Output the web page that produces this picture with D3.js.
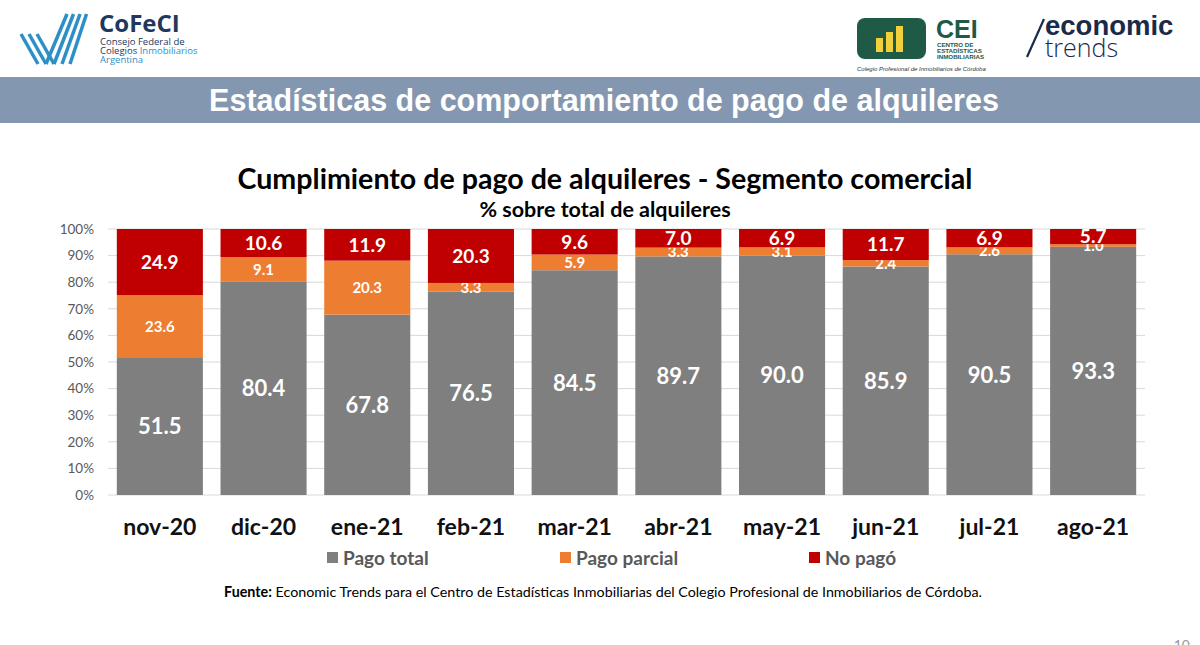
<!DOCTYPE html>
<html lang="es">
<head>
    <meta charset="UTF-8">
    <script src="https://d3js.org/d3.v7.min.js"></script>
    <style>
        body { margin: 0; background: #fff; }
        svg { display: block; }
    </style>
</head>
<body>
    <svg id="chart" width="1200" height="645"></svg>
    <script>
        // datos
        const months = ["nov-20", "dic-20", "ene-21", "feb-21", "mar-21", "abr-21", "may-21", "jun-21", "jul-21", "ago-21"];
        const pagoTotal = [51.5, 80.4, 67.8, 76.5, 84.5, 89.7, 90.0, 85.9, 90.5, 93.3];
        const pagoParcial = [23.6, 9.1, 20.3, 3.3, 5.9, 3.3, 3.1, 2.4, 2.6, 1.0];
        const noPago = [24.9, 10.6, 11.9, 20.3, 9.6, 7.0, 6.9, 11.7, 6.9, 5.7];
        const seriesNames = ["Pago total", "Pago parcial", "No pagó"];
        const yTicks = [0, 0.1, 0.2, 0.3, 0.4, 0.5, 0.6, 0.7, 0.8, 0.9, 1];

        const colors = ["#7F7F7F", "#ED7D31", "#C00000"];
        const labelSize = [22, 15, 19];
        const chartFont = "Lato, 'Open Sans', sans-serif";

        let table = months.map((m, i) => ({
            month: m,
            "Pago total": pagoTotal[i],
            "Pago parcial": pagoParcial[i],
            "No pagó": noPago[i]
        }));

        let stacked = d3.stack()
            .keys(seriesNames)
            .offset(d3.stackOffsetExpand)(table);

        let svg = d3.select("#chart");

        // ---- cabecera: logos ----
        let logo = svg.append("g");
        let blue = "#2C8FC8";
        // tilde de CoFeCI
        [0, 1, 2].forEach(k => {
            logo.append("line")
                .attr("x1", 21 + k * 8).attr("y1", 34)
                .attr("x2", 38 + k * 8).attr("y2", 64)
                .attr("stroke", blue).attr("stroke-width", 3.5);
        });
        [0, 1, 2, 3].forEach(k => {
            logo.append("line")
                .attr("x1", 46 + k * 8).attr("y1", 64)
                .attr("x2", 67 + k * 6.5).attr("y2", 14)
                .attr("stroke", blue).attr("stroke-width", 3.5);
        });
        logo.append("text").attr("x", 99).attr("y", 32)
            .attr("font-family", "'Open Sans', sans-serif").attr("font-weight", "bold")
            .attr("font-size", 24).attr("fill", "#21385C").text("CoFeCI");
        logo.append("text").attr("x", 100).attr("y", 45)
            .attr("font-family", "'Open Sans', sans-serif").attr("font-size", 9.5)
            .attr("fill", "#21385C").text("Consejo Federal de");
        let l2 = logo.append("text").attr("x", 100).attr("y", 54)
            .attr("font-family", "'Open Sans', sans-serif").attr("font-size", 9.5)
            .attr("fill", "#21385C");
        l2.append("tspan").text("Colegios ");
        l2.append("tspan").attr("fill", blue).text("Inmobiliarios");
        logo.append("text").attr("x", 100).attr("y", 63)
            .attr("font-family", "'Open Sans', sans-serif").attr("font-size", 9.5)
            .attr("fill", blue).text("Argentina");

        // CEI
        let green = "#1F5A47";
        logo.append("rect").attr("x", 857).attr("y", 18).attr("width", 69).attr("height", 41)
            .attr("rx", 8).attr("fill", green);
        [[876, 38, 7], [886, 32, 7], [896, 26, 7]].forEach(b => {
            logo.append("rect").attr("x", b[0]).attr("y", b[1]).attr("width", b[2])
                .attr("height", 52 - b[1]).attr("fill", "#F2D03B");
        });
        logo.append("text").attr("x", 936).attr("y", 38)
            .attr("font-family", "'Liberation Sans', Arial, sans-serif").attr("font-weight", "bold")
            .attr("font-size", 25).attr("fill", green).text("CEI");
        ["CENTRO DE", "ESTADÍSTICAS", "INMOBILIARIAS"].forEach((t, i) => {
            logo.append("text").attr("x", 937).attr("y", 47 + i * 6)
                .attr("font-family", "'Liberation Sans', Arial, sans-serif").attr("font-weight", "bold")
                .attr("font-size", 6.2).attr("fill", green).text(t);
        });
        logo.append("text").attr("x", 857).attr("y", 71)
            .attr("font-family", "'Liberation Sans', Arial, sans-serif").attr("font-style", "italic")
            .attr("font-size", 6).attr("fill", "#333").text("Colegio Profesional de Inmobiliarios de Córdoba");

        // economic trends
        let navy = "#1A2B49";
        logo.append("line").attr("x1", 1027).attr("y1", 57).attr("x2", 1044).attr("y2", 19)
            .attr("stroke", navy).attr("stroke-width", 2.2);
        logo.append("text").attr("x", 1045).attr("y", 35)
            .attr("font-family", "'Liberation Sans', Arial, sans-serif").attr("font-weight", "bold")
            .attr("font-size", 27.5).attr("fill", navy).text("economic");
        logo.append("text").attr("x", 1045).attr("y", 57)
            .attr("font-family", "'Open Sans', sans-serif").attr("font-weight", 300)
            .attr("font-size", 25).attr("fill", navy).text("trends");

        // banda titulo
        svg.append("rect").attr("x", 0).attr("y", 77).attr("width", 1200).attr("height", 46)
            .attr("fill", "#8497B0");
        svg.append("text").attr("x", 604).attr("y", 111).attr("text-anchor", "middle")
            .attr("font-family", "'Liberation Sans', Arial, sans-serif").attr("font-weight", "bold")
            .attr("font-size", 30.5).attr("fill", "#fff")
            .text("Estadísticas de comportamiento de pago de alquileres");

        // titulos del grafico
        svg.append("text").attr("x", 605).attr("y", 189).attr("text-anchor", "middle")
            .attr("font-family", chartFont).attr("font-weight", "bold")
            .attr("font-size", 28.6).attr("fill", "#000")
            .text("Cumplimiento de pago de alquileres - Segmento comercial");
        svg.append("text").attr("x", 605).attr("y", 217).attr("text-anchor", "middle")
            .attr("font-family", chartFont).attr("font-weight", "bold")
            .attr("font-size", 21.5).attr("fill", "#000")
            .text("% sobre total de alquileres");

        // ---- grafico ----
        let x = d3.scaleBand()
            .domain(months)
            .range([108, 1145])
            .paddingInner(0.17)
            .paddingOuter(0.085);

        let y = d3.scaleLinear()
            .domain([0, 1])
            .range([495, 229]);

        let grid = svg.append("g");
        grid.selectAll("line")
            .data(yTicks)
            .enter().append("line")
            .attr("x1", 108).attr("x2", 1145)
            .attr("y1", d => y(d)).attr("y2", d => y(d))
            .attr("stroke", "#D9D9D9").attr("stroke-width", 1);

        let yAxis = svg.append("g")
            .attr("transform", "translate(108,0)")
            .call(d3.axisLeft(y).tickValues(yTicks).tickFormat(d3.format(".0%")).tickSize(0).tickPadding(14));
        yAxis.select(".domain").remove();
        yAxis.selectAll("text")
            .attr("font-family", chartFont).attr("font-size", 13.5).attr("fill", "#595959");

        let xAxis = svg.append("g")
            .attr("transform", "translate(0,495)")
            .call(d3.axisBottom(x).tickSize(0).tickPadding(24));
        xAxis.select(".domain").remove();
        xAxis.selectAll("text")
            .attr("font-family", chartFont).attr("font-weight", "bold")
            .attr("font-size", 23).attr("fill", "#111");

        let layers = svg.selectAll(".layer")
            .data(stacked)
            .enter().append("g")
            .attr("class", "layer")
            .attr("fill", (d, i) => colors[i]);

        layers.selectAll("rect")
            .data(d => d)
            .enter().append("rect")
            .attr("x", d => x(d.data.month))
            .attr("width", x.bandwidth())
            .attr("y", d => y(d[1]))
            .attr("height", d => y(d[0]) - y(d[1]));

        layers.each(function(s, i) {
            d3.select(this).selectAll("text")
                .data(s)
                .enter().append("text")
                .attr("x", d => x(d.data.month) + x.bandwidth() / 2)
                .attr("y", d => y((d[0] + d[1]) / 2))
                .attr("dy", "0.36em")
                .attr("text-anchor", "middle")
                .attr("font-family", chartFont).attr("font-weight", "bold")
                .attr("font-size", labelSize[i]).attr("fill", "#fff")
                .text(d => d3.format(".1f")(d.data[s.key]));
        });

        // leyenda
        let legendX = [327, 560, 809];
        let legend = svg.selectAll(".legend")
            .data(seriesNames)
            .enter().append("g")
            .attr("class", "legend")
            .attr("transform", (d, i) => `translate(${legendX[i]},558)`);
        legend.append("rect")
            .attr("x", 0).attr("y", -6).attr("width", 11).attr("height", 11)
            .attr("fill", (d, i) => colors[i]);
        legend.append("text")
            .attr("x", 16).attr("dy", "0.36em")
            .attr("font-family", chartFont).attr("font-weight", "bold")
            .attr("font-size", 19).attr("fill", "#595959")
            .text(d => d);

        // fuente
        let src = svg.append("text").attr("x", 603).attr("y", 597).attr("text-anchor", "middle")
            .attr("font-family", chartFont).attr("font-size", 14.3).attr("fill", "#000");
        src.append("tspan").attr("font-weight", "bold").text("Fuente:");
        src.append("tspan").text(" Economic Trends para el Centro de Estadísticas Inmobiliarias del Colegio Profesional de Inmobiliarios de Córdoba.");

        svg.append("text").attr("x", 1190).attr("y", 650).attr("text-anchor", "end")
            .attr("font-family", chartFont).attr("font-size", 14).attr("fill", "#999").text("10");
    </script>
</body>
</html>
